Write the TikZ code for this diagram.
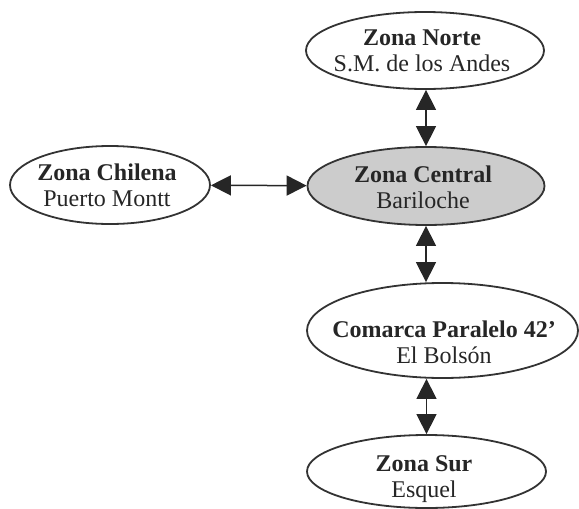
\documentclass[tikz,border=0pt]{standalone}
\usepackage{fontspec}
\setmainfont{Liberation Serif}
\usepackage{tikz}
\usetikzlibrary{shapes.geometric, arrows.meta}
\tikzstyle{zone}=[draw=black!80, shape=ellipse, line width=0.9pt, inner sep=0pt]
\tikzstyle{zonetxt}=[inner sep=0pt, anchor=base, font=\fontsize{12}{13}\selectfont, text=black!85]
\tikzstyle{link}=[<->, line width=0.75pt, draw=black!85, fill=black!85]
\tikzset{>={Triangle[length=10pt, width=10pt]}}
\newcommand{\zona}[2]{\begin{tabular}[t]{@{}c@{}}\textbf{#1}\\#2\end{tabular}}

\begin{document}
\begin{tikzpicture}[x=0.5pt, y=-0.5pt]
\useasboundingbox (0,0) rectangle (579,509);
% the zones
\node[zone, minimum width=119pt, minimum height=38.5pt] (norte) at (425,50.5) {};
\node[zone, minimum width=118.5pt, minimum height=39pt, fill=gray!40] (central) at (426,186) {};
\node[zone, minimum width=100pt, minimum height=39pt] (chilena) at (110,185) {};
\node[zone, minimum width=135.5pt, minimum height=47.5pt] (comarca) at (442.5,330.5) {};
\node[zone, minimum width=119.5pt, minimum height=36.5pt] (sur) at (426.5,471.5) {};
% the names
\node[zonetxt] (norte-t) at (422,45) {\zona{Zona Norte}{S.M. de los Andes}};
\node[zonetxt] (central-t) at (423,182) {\zona{Zona Central}{Bariloche}};
\node[zonetxt] (chilena-t) at (107,180) {\zona{Zona Chilena}{Puerto Montt}};
\node[zonetxt] (comarca-t) at (444,337) {\zona{Comarca Paralelo 42’}{El Bolsón}};
\node[zonetxt] (sur-t) at (424,471) {\zona{Zona Sur}{Esquel}};
% the arrows
\draw[link] (central.north |- norte.south) -- (central.north);
\draw[link] (chilena) -- (central);
\draw[link] (central.south) -- (central.south |- comarca.north);
\draw[link] (sur.north |- comarca.south) -- (sur.north);
\end{tikzpicture}
\end{document}
